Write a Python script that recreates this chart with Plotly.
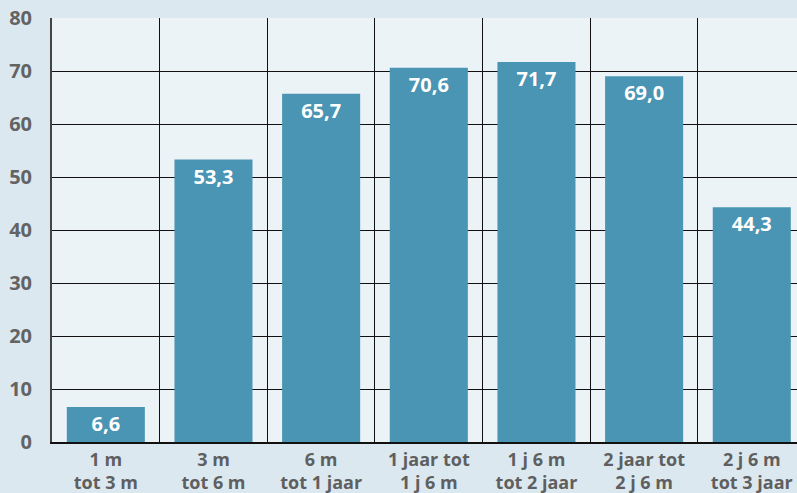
import plotly.graph_objects as go

categories = ["1 m<br>tot 3 m", "3 m<br>tot 6 m", "6 m<br>tot 1 jaar", "1 jaar tot<br>1 j 6 m",
              "1 j 6 m<br>tot 2 jaar", "2 jaar tot<br>2 j 6 m", "2 j 6 m<br>tot 3 jaar"]
values = [6.6, 53.3, 65.7, 70.6, 71.7, 69.0, 44.3]
labels = ["6,6", "53,3", "65,7", "70,6", "71,7", "69,0", "44,3"]
y_ticks = [0, 10, 20, 30, 40, 50, 60, 70, 80]

positions = list(range(len(categories)))

fig = go.Figure(go.Bar(
    x=positions,
    y=values,
    width=0.725,
    marker=dict(color="#4a94b4", line=dict(width=0)),
    text=["<b>" + t + "</b>" for t in labels],
    textposition="inside",
    insidetextanchor="end",
    textangle=0,
    textfont=dict(family="Open Sans", size=20, color="white"),
    cliponaxis=False,
))

fig.update_layout(
    width=797, height=493,
    margin=dict(l=52, r=0, t=18, b=51),
    paper_bgcolor="#dce8f0",
    plot_bgcolor="#ecf3f7",
    showlegend=False,
    uniformtext=dict(minsize=20, mode="show"),
)

fig.update_xaxes(
    range=[-0.5, 6.42],
    tickmode="array",
    tickvals=positions,
    ticktext=["<b>" + c + "</b>" for c in categories],
    tickfont=dict(family="Open Sans", size=18, color="#5f5f5f"),
    showgrid=False,
    zeroline=False,
    showline=True, linecolor="#111111", linewidth=2,
    ticks="", ticklabelstandoff=0,
    minor=dict(tickvals=[p + 0.5 for p in positions[:-1]], showgrid=True,
               gridcolor="#111111", gridwidth=1.3, ticks=""),
)

fig.update_yaxes(
    range=[0, 80],
    tickmode="array",
    tickvals=y_ticks,
    ticktext=["<b>%d</b>" % v for v in y_ticks],
    tickfont=dict(family="Open Sans", size=20, color="#636363"),
    showgrid=True, gridcolor="#111111", gridwidth=1.3,
    zeroline=False,
    showline=True, linecolor="#444444", linewidth=2,
    ticks="", ticklabelstandoff=14,
)

fig.write_html("out.html")
